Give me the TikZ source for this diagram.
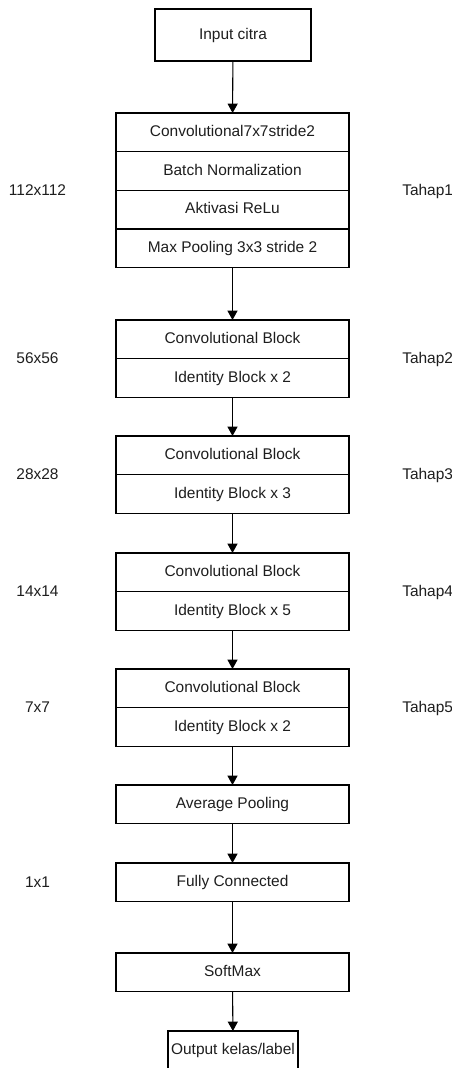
\documentclass[tikz,border=0pt]{standalone}
\usepackage{fontspec}
\setmainfont{Liberation Sans}
\usetikzlibrary{arrows.meta,positioning}
\definecolor{ink}{RGB}{30,30,30}
\tikzset{
  >={Triangle[length=7pt,width=7.5pt]},
  row/.style={draw=black,line width=0.8pt,minimum width=174.75pt,minimum height=29pt,
    inner sep=0pt,outer sep=0pt,text height=8.4pt,text depth=2.2pt,
    font=\fontsize{11.6}{13}\selectfont,text=ink},
  tag/.style={font=\fontsize{11.6}{13}\selectfont,text=ink,inner sep=0pt,
    text height=8.4pt,text depth=2.2pt},
  flow/.style={->,line width=0.8pt,draw=black},
}

\begin{document}
\begin{tikzpicture}[x=0.75pt,y=-0.75pt]
  \useasboundingbox (0,0) rectangle (452,1068);
  % input
  \node[row,minimum width=117pt,minimum height=39pt] (inp) at (233,35) {Input citra};
  % tahap 1
  \node[row,anchor=north] (c1) at (232.5,113) {Convolutional7x7stride2};
  \node[row,below=0pt of c1] (bn) {Batch Normalization};
  \node[row,below=0pt of bn] (relu) {Aktivasi ReLu};
  \node[row,below=0pt of relu] (pool) {Max Pooling 3x3 stride 2};
  \node[tag] (sz1) at (37.5,191) {112x112};
  \node[tag,anchor=west] (th1) at (402,191) {Tahap1};
  % tahap 2-5
  \foreach \y/\k/\n/\s in {320/2/2/56x56,436/3/3/28x28,553/4/5/14x14,669/5/2/7x7}{
    \node[row,anchor=north] (cb\k) at (232.5,\y) {Convolutional Block};
    \node[row,below=0pt of cb\k] (ib\k) {Identity Block x \n};
    \node[tag] (sz\k) at (37.5,\y+39) {\s};
    \node[tag,anchor=west] (th\k) at (402,\y+39) {Tahap\k};
  }
  % head
  \node[row,anchor=north] (avg) at (232.5,785) {Average Pooling};
  \node[row,anchor=north] (fc) at (232.5,863) {Fully Connected};
  \node[tag] (sz6) at (37.5,883) {1x1};
  \node[row,anchor=north] (sm) at (232.5,953) {SoftMax};
  \node[row,anchor=north,minimum width=97.5pt] (out) at (233,1031) {Output kelas/label};

  \draw[flow] (inp) -- (c1);
  \draw[flow] (pool) -- (cb2);
  \draw[flow] (ib2) -- (cb3);
  \draw[flow] (ib3) -- (cb4);
  \draw[flow] (ib4) -- (cb5);
  \draw[flow] (ib5) -- (avg);
  \draw[flow] (avg) -- (fc);
  \draw[flow] (fc) -- (sm);
  \draw[flow] (sm) -- (out);
\end{tikzpicture}
\end{document}
